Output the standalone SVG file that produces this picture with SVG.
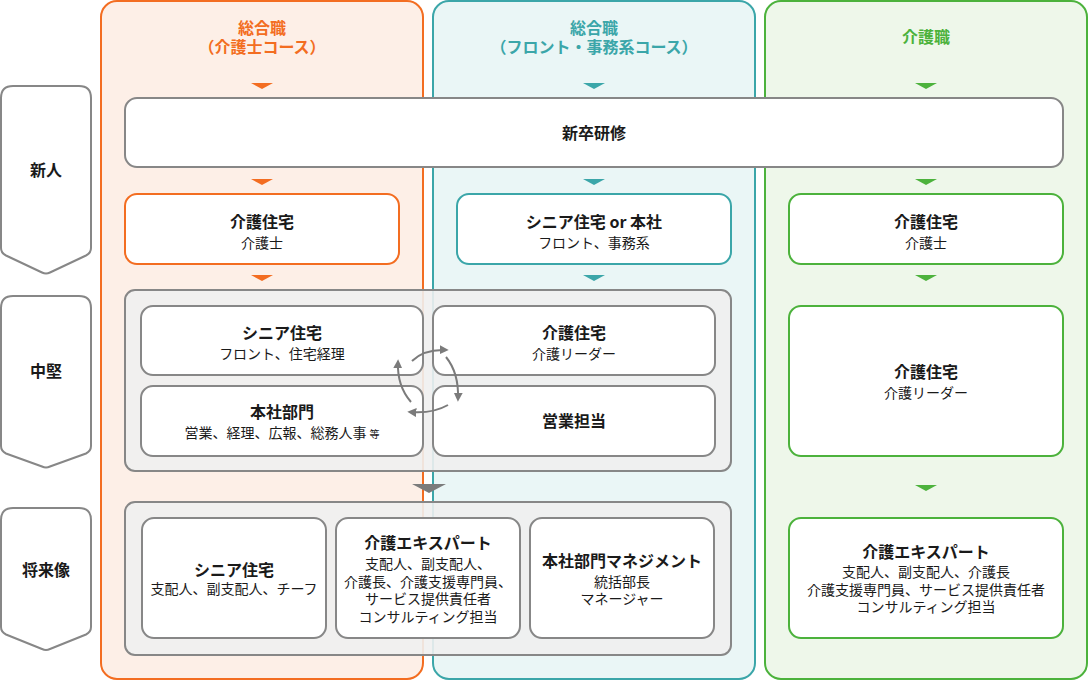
<svg xmlns="http://www.w3.org/2000/svg" width="1088" height="680" viewBox="0 0 1088 680">
<defs>
<style>
text{font-family:"Noto Sans CJK JP","Noto Sans",sans-serif;text-anchor:middle;fill:#1a1a1a}
.t{font-size:16px;font-weight:700}
.s{font-size:14px;font-weight:400}
.h{font-size:16px;font-weight:700}
.box{fill:#fff;stroke:#878787;stroke-width:2}
.ob{fill:#fff;stroke:#f36d21;stroke-width:2}
.tb{fill:#fff;stroke:#3ba6a9;stroke-width:2}
.gb{fill:#fff;stroke:#4cb23c;stroke-width:2}
.cont{fill:#efefef;fill-opacity:0.9;stroke:#878787;stroke-width:2}
.stage{fill:#fff;stroke:#878787;stroke-width:2}
.ot{fill:#f36d21}.tt{fill:#3ba6a9}.gt{fill:#4cb23c}
.cyc{fill:none;stroke:#7b7b7b;stroke-width:2}
</style>
<marker id="ah" viewBox="0 0 10 10" refX="7" refY="5" markerWidth="4.5" markerHeight="4.5" orient="auto" markerUnits="strokeWidth">
<path d="M0,0 L10,5 L0,10 Z" fill="#7b7b7b"/>
</marker>
</defs>

<g id="col-orange">
<rect x="101" y="1" width="322" height="678" rx="16" fill="#fdefe7" stroke="#f36d21" stroke-width="2"/>
<text class="h ot" x="262" y="34">総合職</text>
<text class="h ot" x="262" y="53">（介護士コース）</text>
</g>
<g id="col-teal">
<rect x="433" y="1" width="322" height="678" rx="16" fill="#eaf6f6" stroke="#3ba6a9" stroke-width="2"/>
<text class="h tt" x="594" y="34">総合職</text>
<text class="h tt" x="594" y="53">（フロント・事務系コース）</text>
</g>
<g id="col-green">
<rect x="765" y="1" width="322" height="678" rx="16" fill="#eef7ea" stroke="#4cb23c" stroke-width="2"/>
<text class="h gt" x="926" y="43">介護職</text>
</g>

<g id="stage-shinjin">
<path class="stage" d="M1,98 Q1,86 13,86 L79,86 Q91,86 91,98 L91,248 Q91,253 86,255.5 L50,272.5 Q46,274.5 42,272.5 L6,255.5 Q1,253 1,248 Z"/>
<text class="t" x="46" y="176">新人</text>
</g>
<g id="stage-chuken">
<path class="stage" d="M1,308 Q1,296 13,296 L79,296 Q91,296 91,308 L91,446 Q91,451 86,453.5 L50,466.5 Q46,468.5 42,466.5 L6,453.5 Q1,451 1,446 Z"/>
<text class="t" x="46" y="377">中堅</text>
</g>
<g id="stage-shorai">
<path class="stage" d="M1,520 Q1,508 13,508 L79,508 Q91,508 91,520 L91,627 Q91,632 86,634.5 L50,649 Q46,651 42,649 L6,634.5 Q1,632 1,627 Z"/>
<text class="t" x="46" y="576">将来像</text>
</g>

<g id="connectors">
<path class="ot" d="M251,83 L273,83 L262,89 Z"/>
<path class="tt" d="M583,83 L605,83 L594,89 Z"/>
<path class="gt" d="M915,83 L937,83 L926,89 Z"/>
<path class="ot" d="M251,179 L273,179 L262,185 Z"/>
<path class="tt" d="M583,179 L605,179 L594,185 Z"/>
<path class="gt" d="M915,179 L937,179 L926,185 Z"/>
<path class="ot" d="M251,275 L273,275 L262,281 Z"/>
<path class="tt" d="M583,275 L605,275 L594,281 Z"/>
<path class="gt" d="M915,275 L937,275 L926,281 Z"/>
<path class="gt" d="M915,485 L937,485 L926,491 Z"/>
<path fill="#7b7b7b" d="M412,484 L446,484 L429,493 Z"/>
</g>

<g id="shinsotsu">
<rect class="box" x="125" y="98" width="938" height="69" rx="12"/>
<text class="t" x="594" y="139">新卒研修</text>
</g>

<g id="o-kaigo">
<rect class="ob" x="125" y="194" width="274" height="70" rx="12"/>
<text class="t" x="262" y="228">介護住宅</text>
<text class="s" x="262" y="248">介護士</text>
</g>
<g id="t-senior">
<rect class="tb" x="457" y="194" width="274" height="70" rx="12"/>
<text class="t" x="594" y="228">シニア住宅 or 本社</text>
<text class="s" x="594" y="248">フロント、事務系</text>
</g>
<g id="g-kaigo">
<rect class="gb" x="789" y="194" width="274" height="70" rx="12"/>
<text class="t" x="926" y="228">介護住宅</text>
<text class="s" x="926" y="248">介護士</text>
</g>

<g id="mid-container">
<rect class="cont" x="125" y="290" width="606" height="181" rx="10"/>
</g>
<g id="m-senior">
<rect class="box" x="141" y="306" width="282" height="69" rx="12"/>
<text class="t" x="282" y="339">シニア住宅</text>
<text class="s" x="282" y="359">フロント、住宅経理</text>
</g>
<g id="m-kaigo">
<rect class="box" x="433" y="306" width="282" height="69" rx="12"/>
<text class="t" x="574" y="339">介護住宅</text>
<text class="s" x="574" y="359">介護リーダー</text>
</g>
<g id="m-honsha">
<rect class="box" x="141" y="386" width="282" height="70" rx="12"/>
<text class="t" x="282" y="418">本社部門</text>
<text class="s" x="282" y="438">営業、経理、広報、総務人事 <tspan style="font-size:10px">等</tspan></text>
</g>
<g id="m-eigyo">
<rect class="box" x="433" y="386" width="282" height="70" rx="12"/>
<text class="t" x="574" y="427">営業担当</text>
</g>
<g id="cycle">
<path class="cyc" marker-end="url(#ah)" d="M412,361 Q424,349 446,350"/>
<path class="cyc" marker-end="url(#ah)" d="M446,357 Q459,373 458,399"/>
<path class="cyc" marker-end="url(#ah)" d="M448,405 Q432,414 410,412"/>
<path class="cyc" marker-end="url(#ah)" d="M411,402 Q397,386 398,362"/>
</g>

<g id="g-leader">
<rect class="gb" x="789" y="306" width="274" height="150" rx="12"/>
<text class="t" x="926" y="378">介護住宅</text>
<text class="s" x="926" y="398">介護リーダー</text>
</g>

<g id="bottom-container">
<rect class="cont" x="125" y="502" width="606" height="153" rx="10"/>
</g>
<g id="b-senior">
<rect class="box" x="142" y="518" width="184" height="120" rx="12"/>
<text class="t" x="234" y="576">シニア住宅</text>
<text class="s" x="234" y="594">支配人、副支配人、チーフ</text>
</g>
<g id="b-expert">
<rect class="box" x="336" y="518" width="184" height="120" rx="12"/>
<text class="t" x="428" y="549">介護エキスパート</text>
<text class="s" x="428" y="569">支配人、副支配人、</text>
<text class="s" x="428" y="586.5">介護長、介護支援専門員、</text>
<text class="s" x="428" y="604">サービス提供責任者</text>
<text class="s" x="428" y="621.5">コンサルティング担当</text>
</g>
<g id="b-mgmt">
<rect class="box" x="530" y="518" width="184" height="120" rx="12"/>
<text class="t" x="622" y="567">本社部門マネジメント</text>
<text class="s" x="622" y="587">統括部長</text>
<text class="s" x="622" y="604">マネージャー</text>
</g>
<g id="g-expert">
<rect class="gb" x="789" y="518" width="274" height="120" rx="12"/>
<text class="t" x="926" y="558">介護エキスパート</text>
<text class="s" x="926" y="577">支配人、副支配人、介護長</text>
<text class="s" x="926" y="595">介護支援専門員、サービス提供責任者</text>
<text class="s" x="926" y="612">コンサルティング担当</text>
</g>
</svg>
